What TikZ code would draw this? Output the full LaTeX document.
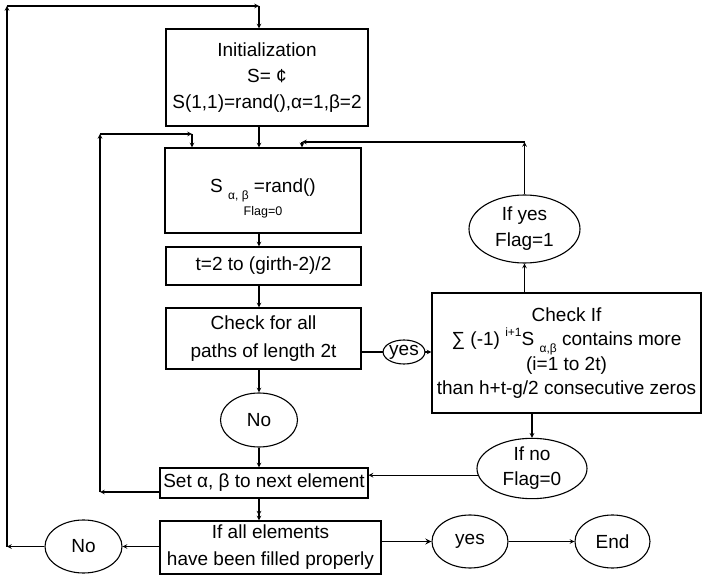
\documentclass[tikz,border=0pt]{standalone}
\usepackage{fontspec}
\setmainfont{Liberation Sans}
\usetikzlibrary{shapes.geometric}

\newcommand{\lowsub}[1]{\raisebox{-0.7ex}{\fontsize{12}{12}\selectfont #1}}
\newcommand{\highsup}[1]{\raisebox{0.9ex}{\fontsize{12}{12}\selectfont #1}}

\begin{document}
\begin{tikzpicture}[x=1pt, y=-1pt, >=stealth, line width=1.1pt,
    every node/.style={font=\fontsize{19}{26}\selectfont, align=center, inner sep=0pt},
    box/.style={draw, rectangle},
    oval/.style={draw, ellipse}]
    \useasboundingbox (0,0) rectangle (702,577);

    % main column
    \coordinate (col) at (259,0);

    \node[box, minimum width=202, minimum height=97] (init) at (267,77.5)
        {Initialization\\S= ¢\\S(1,1)=rand(),α=1,β=2};
    \node[box, minimum width=196, minimum height=85] (sbox) at (263,190.5)
        {\rule{0pt}{30pt}S \lowsub{α, β} =rand()\\[-3pt]{\fontsize{12.5}{12.5}\selectfont Flag=0}};
    \node[box, minimum width=195, minimum height=38] (tbox) at (263.5,266)
        {t=2 to (girth-2)/2};
    \node[box, minimum width=195, minimum height=61, font=\fontsize{19}{28}\selectfont] (check) at (263.5,338.5)
        {Check for all\\paths of length 2t};
    \node[oval, minimum width=31, minimum height=24] (yesA) at (404,352) {yes};
    \node[box, minimum width=269, minimum height=120, font=\fontsize{19}{24.5}\selectfont] (cond) at (566.5,353)
        {Check If\\∑ (-1) \highsup{i+1}S \lowsub{α,β} contains more\\(i=1 to 2t)\\than h+t-g/2 consecutive zeros};
    \node[oval, minimum width=111, minimum height=68] (ifyes) at (524.5,229) {If yes\\Flag=1};
    \node[oval, minimum width=110, minimum height=53, font=\fontsize{19}{25}\selectfont] (ifno) at (532,468.5) {If no\\Flag=0};
    \node[oval, minimum width=77, minimum height=54] (noA) at (259,420) {No};
    \node[box, minimum width=208, minimum height=30] (setnext) at (264,483)
        {Set α, β to next element};
    \node[box, minimum width=221, minimum height=53, font=\fontsize{19}{27}\selectfont] (allfill) at (270.5,547.5)
        {If all elements\\have been filled properly};
    \node[oval, minimum width=77, minimum height=53] (noB) at (83.5,546.5) {No};
    \node[oval, minimum width=76, minimum height=53] (yesB) at (470,541.5) {yes};
    \node[oval, minimum width=75, minimum height=53] (done) at (612.5,541.5) {End};

    % straight flow
    \draw[->] (init.south -| col) -- (sbox.north -| col);
    \draw[->] (sbox.south -| col) -- (tbox.north -| col);
    \draw[->] (tbox.south -| col) -- (check.north -| col);
    \draw[->] (check.south -| col) -- (noA.north);
    \draw[->] (noA.south) -- (setnext.north -| noA);
    \draw[->>] (setnext.south -| col) -- (allfill.north -| col);
    \draw (check.east |- yesA) -- (yesA.west);
    \draw[->] (yesA.east) -- (yesA.east -| cond.west);
    \draw[->] (cond.north -| ifyes) -- (ifyes.south);
    \draw[->] (cond.south -| ifno) -- (ifno.north);
    \draw[->] (ifno.187) -- (ifno.187 -| setnext.east);
    \draw[->] (allfill.west |- noB) -- (noB.east);
    \draw[->, line width=1.7pt] (allfill.east |- yesB) -- (yesB.west);
    \draw[->] (yesB) -- (done);

    % loop back from If yes
    \coordinate (rtop) at (524.5,142);
    \coordinate (rin) at (302,142);
    \draw[->] (ifyes.north) -- (rtop);
    \draw[->] (rtop) -- (rin);
    \draw[->] (rin) -- (rin |- sbox.north);

    % loop back from Set
    \coordinate (lbot) at (100,492);
    \coordinate (ltop) at (100,134);
    \coordinate (lin) at (192,134);
    \draw[->] (lbot -| setnext.west) -- (lbot);
    \draw[->] (lbot) -- (ltop);
    \draw[->] (ltop) -- (lin);
    \draw[->] (lin) -- (lin |- sbox.north);

    % outer loop
    \coordinate (otop) at (7,6);
    \draw[->] (noB.west) -- (noB.west -| otop);
    \draw[->] (noB.west -| otop) -- (otop);
    \draw[->] (otop) -- (otop -| col);
    \draw[->] (otop -| col) -- (init.north -| col);
\end{tikzpicture}
\end{document}
